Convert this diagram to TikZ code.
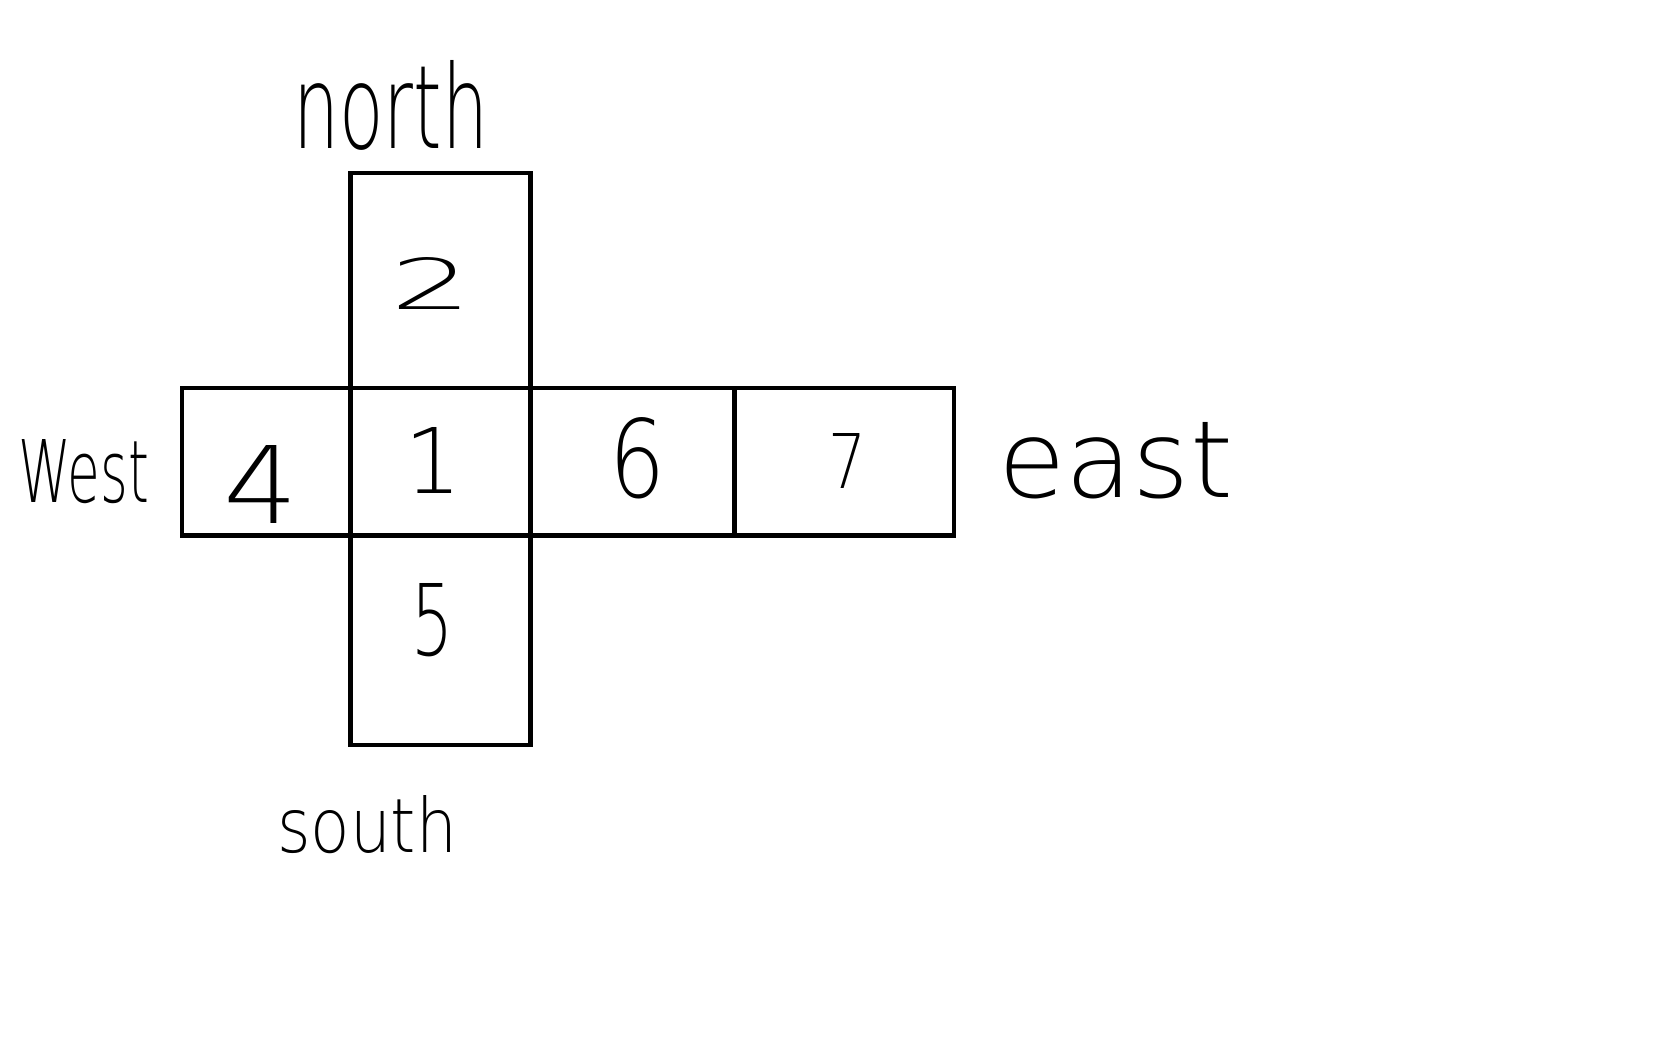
\documentclass[tikz,border=0pt]{standalone}
\usepackage{fontspec}
\usepackage{graphicx}
\newfontfamily\handfont{DejaVu Sans ExtraLight}
\begin{document}
\begin{tikzpicture}[x=1pt,y=-1pt,
  cell/.style={draw,line width=4.5pt,rectangle,inner sep=0pt,outer sep=0pt},
  hw/.style={inner sep=0pt,outer sep=0pt,anchor=base west,font=\handfont}]
\useasboundingbox (0,0) rectangle (1657,1044);
% cells
\node[cell,minimum width=180pt,minimum height=215pt] (c2) at (440.5,280.5) {};
\node[cell,minimum width=168.5pt,minimum height=147.5pt] (c4) at (266.25,461.75) {};
\node[cell,minimum width=180pt,minimum height=147.5pt] (c1) at (440.5,461.75) {};
\node[cell,minimum width=204pt,minimum height=147.5pt] (c6) at (632.5,461.75) {};
\node[cell,minimum width=219.5pt,minimum height=147.5pt] (c7) at (844.25,461.75) {};
\node[cell,minimum width=180pt,minimum height=209.5pt] (c5) at (440.5,640.25) {};
% digits
\node[hw] (d2) at (390,309) {\resizebox{82pt}{52pt}{2}};
\node[hw] (d4) at (223,523) {\resizebox{75pt}{78pt}{4}};
\node[hw] (d1) at (404,493) {\resizebox{!}{66pt}{1}};
\node[hw] (d6) at (609,497) {\resizebox{56pt}{80pt}{6}};
\node[hw] (d7) at (828,488) {\resizebox{38pt}{55pt}{7}};
\node[hw] (d5) at (411,655) {\resizebox{42pt}{72pt}{5}};
% direction words
\node[hw] (north) at (293,148) {\resizebox{195pt}{88pt}{north}};
\node[hw] (south) at (277,852) {\resizebox{180pt}{57pt}{south}};
\node[hw] (west) at (18,502) {\resizebox{131pt}{63pt}{West}};
\node[hw] (east) at (998,497) {\resizebox{235pt}{75pt}{east}};
\end{tikzpicture}
\end{document}
